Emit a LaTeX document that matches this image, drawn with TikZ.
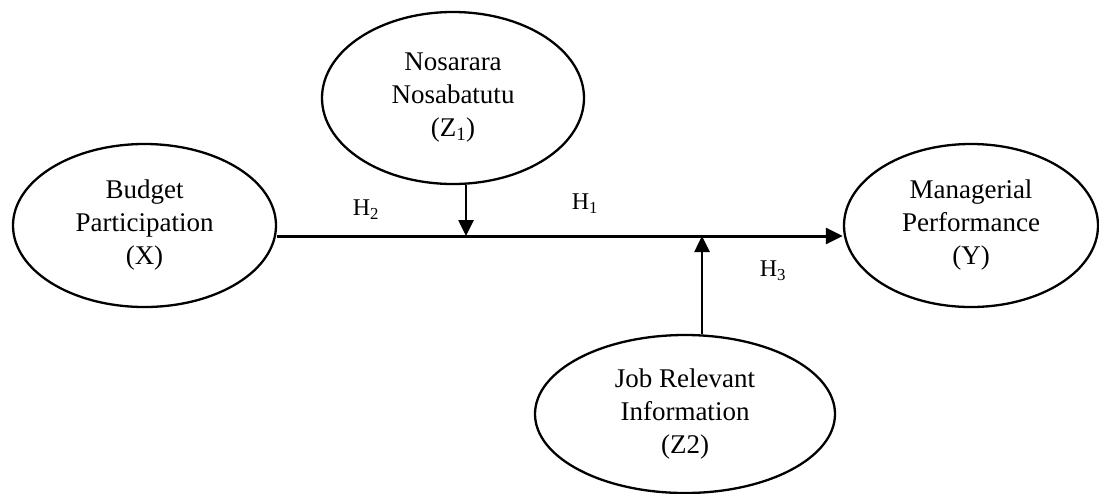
\documentclass[tikz,border=0pt]{standalone}
\usepackage{fontspec}
\setmainfont{Liberation Serif}
\usetikzlibrary{shapes.geometric,arrows.meta}
\tikzset{
  var/.style={draw, line width=2.3pt, ellipse, inner sep=0pt, align=center,
    font=\fontsize{27}{33}\selectfont},
  hyp/.style={font=\fontsize{24}{28}\selectfont, inner sep=0pt},
  mainarrow/.style={line width=3pt, -{Triangle[length=17pt,width=16pt]}},
  modarrow/.style={line width=2.6pt, -{Triangle[length=16pt,width=15pt]}}
}
\begin{document}
\begin{tikzpicture}[x=1pt,y=-1pt]
\useasboundingbox (0,0) rectangle (1099,493);
\node[var, minimum width=263pt, minimum height=163pt] (bp) at (144.5,225.5) {Budget\\Participation\\(X)};
\node[var, minimum width=262pt, minimum height=172pt] (nn) at (453,98) {Nosarara\\Nosabatutu\\(Z\textsubscript{1})};
\node[var, minimum width=254pt, minimum height=163pt] (mp) at (971,225.5) {Managerial\\Performance\\(Y)};
\node[var, minimum width=300pt, minimum height=158pt] (jri) at (685,414) {Job Relevant\\Information\\(Z2)};
\coordinate (hl) at (0,236);
\coordinate (m1) at (466,236);
\coordinate (m2) at (702,236);
\draw[mainarrow] (bp.east |- hl) -- (mp.west |- hl);
\draw[modarrow] (m1 |- nn.south) -- (m1);
\draw[modarrow] (m2 |- jri.north) -- (m2);
\node[hyp] (h2) at (366,210) {H\textsubscript{2}};
\node[hyp] (h1) at (585,204) {H\textsubscript{1}};
\node[hyp] (h3) at (773,271) {H\textsubscript{3}};
\end{tikzpicture}
\end{document}
